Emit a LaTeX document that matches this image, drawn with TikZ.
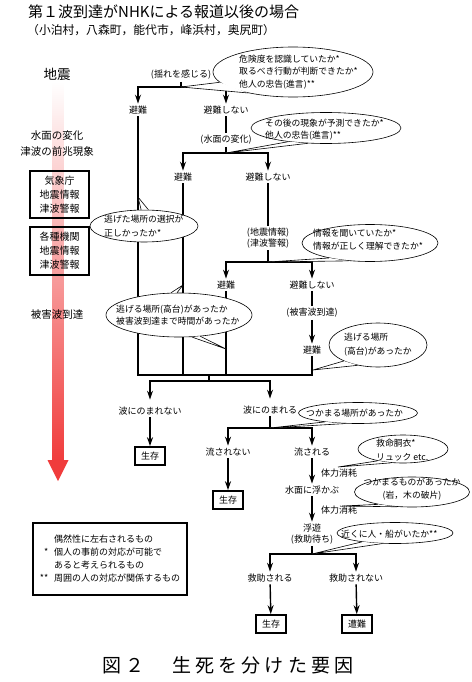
\documentclass[tikz,border=0pt]{standalone}
\usepackage{fontspec}
\setmainfont{Noto Sans CJK JP}
\usetikzlibrary{shapes.geometric,arrows.meta}
\definecolor{quakered}{RGB}{240,60,60}
\tikzset{
  lbl/.style={font=\fontsize{9}{11}\selectfont, inner sep=2pt, align=center},
  side/.style={font=\fontsize{10.5}{16}\selectfont, inner sep=0pt, align=center},
  sidebox/.style={draw, line width=1.6pt, minimum width=59pt, align=center, font=\fontsize{10}{14}\selectfont},
  bubble/.style={draw, ellipse, fill=white, inner sep=0pt, line width=0.6pt},
  qtxt/.style={font=\fontsize{8.8}{12.5}\selectfont, inner sep=0pt, align=left, anchor=west},
  endbox/.style={draw, line width=1.6pt, font=\fontsize{9}{11}\selectfont, minimum width=30pt, minimum height=18pt, inner sep=1pt},
  flow/.style={line width=1.4pt},
  arr/.style={line width=1.4pt, -{Stealth[length=9pt,width=6pt]}},
}
\newcommand{\calltail}[4]{%
  \fill[white] (#1.#2) -- (#4) -- (#1.#3) -- cycle;
  \draw[line width=0.6pt] (#1.#2) -- (#4) -- (#1.#3);}
\begin{document}
\begin{tikzpicture}[x=1pt,y=-1pt]
\useasboundingbox (0,0) rectangle (471,682);
\shade[top color=white, bottom color=quakered] (52.5,82) rectangle (63.5,461);
\fill[quakered] (47.5,460) -- (68.5,460) -- (58,481) -- cycle;

\node[font=\fontsize{15}{17}\selectfont, anchor=west, inner sep=0pt] (title) at (28,12) {第１波到達がNHKによる報道以後の場合};
\node[font=\fontsize{11.8}{13}\selectfont, anchor=west, inner sep=0pt] (towns) at (27,30) {（小泊村，八森町，能代市，峰浜村，奥尻町）};

\node[font=\fontsize{13.5}{15}\selectfont, inner sep=0pt] (quake) at (57,74) {地震};
\node[side] (sign) at (57,144) {水面の変化\\津波の前兆現象};
\node[sidebox, minimum height=47pt] (jma) at (59.5,194.5) {気象庁\\地震情報\\津波警報};
\node[sidebox, minimum height=48pt] (agency) at (59.5,251) {各種機関\\地震情報\\津波警報};
\node[side] (arrive) at (57,315) {被害波到達};

\node[lbl] (shake) at (181,75) {(揺れを感じる)};
\coordinate (b1) at (181,87);
\node[lbl] (ev1) at (138,110) {避難};
\node[lbl] (st1) at (226,110) {避難しない};
\node[lbl] (wat) at (226,140) {(水面の変化)};
\coordinate (b2) at (226,153);
\node[lbl] (ev2) at (183,177) {避難};
\node[lbl] (st2) at (268,177) {避難しない};
\node[lbl] (info) at (268,238) {(地震情報)\\(津波警報)};
\coordinate (b3) at (268,262);
\node[lbl] (ev3) at (226,285) {避難};
\node[lbl] (st3) at (312,285) {避難しない};
\node[lbl] (dmg) at (312,313) {(被害波到達)};
\node[lbl] (ev4) at (312,350) {避難};
\coordinate (m1) at (138,375);
\coordinate (m2) at (183,375);
\coordinate (m3) at (226,375);
\coordinate (m4) at (312,375);
\coordinate (mc) at (209,375);
\coordinate (b5) at (209,381);
\node[lbl] (no) at (150,411) {波にのまれない};
\node[lbl] (yes) at (270,410) {波にのまれる};
\node[endbox] (surv1) at (150,456) {生存};
\coordinate (b6) at (270,428);
\node[lbl] (nf) at (228,452) {流されない};
\node[lbl] (fl) at (312,452) {流される};
\node[endbox] (surv2) at (228,500) {生存};
\node[lbl] (float) at (312,490) {水面に浮かぶ};
\node[lbl, anchor=west] (tired1) at (319,473) {体力消耗};
\node[lbl] (drift) at (312,534) {浮遊\\(救助待ち)};
\node[lbl, anchor=west] (tired2) at (319,510) {体力消耗};
\coordinate (b7) at (312,554);
\node[lbl] (res) at (270,578) {救助される};
\node[lbl] (nres) at (356,578) {救助されない};
\node[endbox] (surv3) at (271,624) {生存};
\node[endbox] (dead) at (357,624) {遭難};

\draw[flow] (shake) -- (b1);
\draw[arr] (b1) -| (ev1);
\draw[arr] (b1) -| (st1);
\draw[flow] (st1) -- (wat);
\draw[flow] (wat) -- (b2);
\draw[arr] (b2) -| (ev2);
\draw[arr] (b2) -| (st2);
\draw[flow] (st2) -- (info);
\draw[flow] (info) -- (b3);
\draw[arr] (b3) -| (ev3);
\draw[arr] (b3) -| (st3);
\draw[flow] (st3) -- (dmg);
\draw[arr] (dmg) -- (ev4);
\draw[flow] (ev1) -- (m1) -- (m4) -- (ev4);
\draw[flow] (ev2) -- (m2);
\draw[flow] (ev3) -- (m3);
\draw[flow] (mc) -- (b5);
\draw[arr, shorten >=5pt] (b5) -| (no);
\draw[arr, shorten >=5pt] (b5) -| (yes);
\draw[arr] (no) -- (surv1);
\draw[flow] (yes) -- (b6);
\draw[arr] (b6) -| (nf);
\draw[arr] (b6) -| (fl);
\draw[arr] (nf) -- (surv2);
\draw[arr] (fl) -- (float);
\draw[arr] (float) -- (drift);
\draw[flow] (drift) -- (b7);
\draw[arr] (b7) -| (res);
\draw[arr] (b7) -| (nres);
\draw[arr] (res) -- (surv3);
\draw[arr] (nres) -- (dead);

\coordinate (t3) at (138,197);
\coordinate (t4a) at (183,285);
\coordinate (t4b) at (226,349);
\coordinate (t6) at (313,370);
\coordinate (t8) at (338,467);
\coordinate (t9) at (342,506);

\node[bubble, minimum width=160pt, minimum height=50pt] (q1) at (293,72) {};
\calltail{q1}{188}{205}{b1}
\node[qtxt] (q1t) at (239,72) {危険度を認識していたか*\\取るべき行動が判断できたか*\\他人の忠告(進言)**};
\node[bubble, minimum width=150pt, minimum height=31pt] (q2) at (326,128) {};
\calltail{q2}{200}{220}{b2}
\node[qtxt] (q2t) at (265,129.5) {その後の現象が予測できたか*\\他人の忠告(進言)**};
\node[bubble, minimum width=108pt, minimum height=32pt] (q3) at (144,226) {};
\calltail{q3}{100}{75}{t3}
\node[qtxt, font=\fontsize{8.8}{14}\selectfont] (q3t) at (104,226) {逃げた場所の選択が\\正しかったか*};
\node[bubble, minimum width=146pt, minimum height=44pt] (q4) at (179,315) {};
\calltail{q4}{110}{95}{t4a}
\calltail{q4}{300}{315}{t4b}
\node[qtxt] (q4t) at (116,315) {逃げる場所(高台)があったか\\被害波到達まで時間があったか};
\node[bubble, minimum width=136pt, minimum height=37pt] (q5) at (370,243) {};
\calltail{q5}{200}{220}{b3}
\node[qtxt, font=\fontsize{8.8}{13}\selectfont] (q5t) at (313,239.5) {情報を聞いていたか*\\情報が正しく理解できたか*};
\node[bubble, minimum width=98pt, minimum height=44pt] (q6) at (378,345) {};
\calltail{q6}{205}{225}{t6}
\node[qtxt, font=\fontsize{8.8}{14}\selectfont] (q6t) at (344,345) {逃げる場所\\(高台)があったか};
\node[bubble, minimum width=119pt, minimum height=21pt] (q7) at (358,413) {};
\calltail{q7}{195}{220}{b6}
\node[qtxt] (q7t) at (306,413) {つかまる場所があったか};
\node[bubble, minimum width=90pt, minimum height=28pt] (q8) at (403,449) {};
\calltail{q8}{205}{230}{t8}
\node[qtxt, font=\fontsize{8.8}{14}\selectfont] (q8t) at (376,450) {救命胴衣*\\リュック etc.};
\node[bubble, minimum width=115pt, minimum height=30pt] (q9) at (412,492) {};
\calltail{q9}{200}{225}{t9}
\node[qtxt, anchor=center, align=center, font=\fontsize{8.8}{13}\selectfont] (q9t) at (412,489) {つかまるものがあったか\\(岩，木の破片)};
\node[bubble, minimum width=116pt, minimum height=21pt] (q10) at (395,533) {};
\calltail{q10}{195}{220}{b7}
\node[qtxt] (q10t) at (341,534) {近くに人・船がいたか**};

\node[draw, line width=1.3pt, minimum width=154pt, minimum height=72pt, inner sep=0pt, font=\fontsize{9}{13}\selectfont] (legend) at (110,559) {\begin{tabular}{@{}r@{\hspace{6pt}}l@{}} & 偶然性に左右されるもの\\ {*} & 個人の事前の対応が可能で\\ & あると考えられるもの\\ {**} & 周囲の人の対応が関係するもの\end{tabular}};

\node[font=\fontsize{19}{21}\selectfont\addfontfeature{LetterSpace=22}, inner sep=0pt] (caption) at (228,665) {図２　生死を分けた要因};
\end{tikzpicture}
\end{document}
